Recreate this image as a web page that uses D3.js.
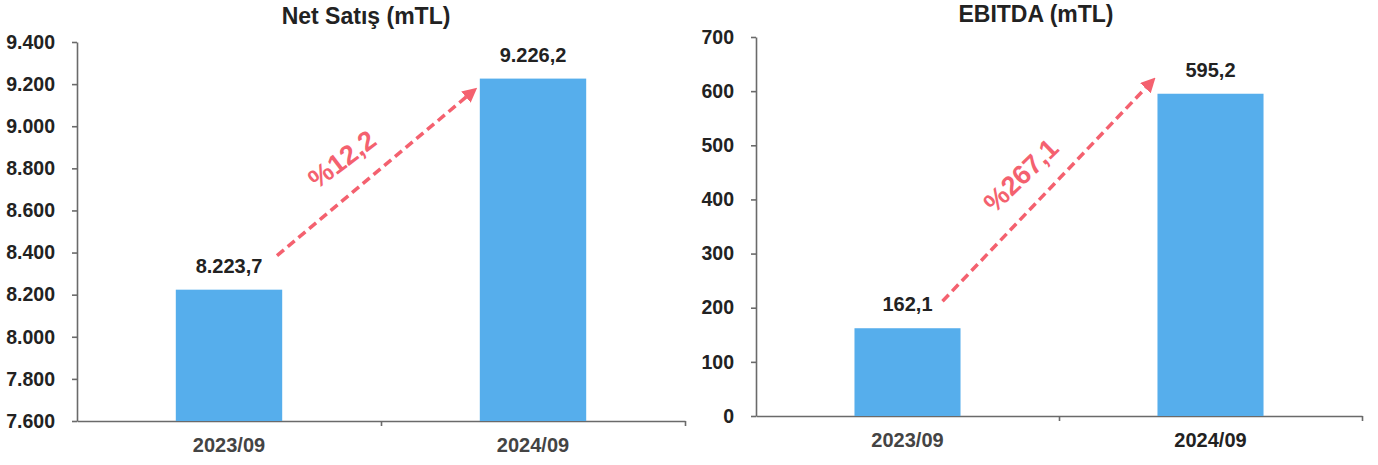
<!DOCTYPE html>
<html>
<head>
<meta charset="utf-8">
<script src="https://cdn.jsdelivr.net/npm/d3@7"></script>
<style>
    body { margin: 0; background: #fff; }
    svg { display: block; }
    .axis path, .axis line { stroke: #6a6a6a; stroke-width: 1.6; }
    .axis text { font-family: "Liberation Sans", Arial, sans-serif; font-weight: bold; font-size: 19.5px; fill: #222; }
    .cat-label { font-family: "Liberation Sans", Arial, sans-serif; font-weight: bold; font-size: 20px; fill: #444; }
    .title { font-family: "Liberation Sans", Arial, sans-serif; font-weight: bold; font-size: 23px; fill: #222; }
    .val { font-family: "Liberation Sans", Arial, sans-serif; font-weight: bold; font-size: 20px; fill: #222; }
    .growth { font-family: "Liberation Sans", Arial, sans-serif; font-weight: bold; font-size: 27px; fill: #f4616f; }
    .arrow { stroke: #f4616f; stroke-width: 3.5; stroke-dasharray: 9 5; fill: none; }
</style>
</head>
<body>
<svg id="chart" width="1378" height="465"></svg>
<script>
/* =======================
   DATA
======================= */
const categories = ["2023/09", "2024/09"];
const netSatisValues = [8223.7, 9226.2];
const ebitdaValues = [162.1, 595.2];
const netSatisTicks = [7600, 7800, 8000, 8200, 8400, 8600, 8800, 9000, 9200, 9400];
const ebitdaTicks = [0, 100, 200, 300, 400, 500, 600, 700];
const titles = ["Net Satış (mTL)", "EBITDA (mTL)"];
const growthLabels = ["%12,2", "%267,1"];

/* Turkish number format */
const tr = d3.formatLocale({ decimal: ",", thousands: ".", grouping: [3], currency: ["", " TL"] });
const fmtVal = tr.format(",.1f");
const fmtTick = tr.format(",d");

const svg = d3.select("#chart");

// arrowhead marker
svg.append("defs").append("marker")
    .attr("id", "head")
    .attr("viewBox", "0 0 10 10")
    .attr("refX", 7).attr("refY", 5)
    .attr("markerWidth", 4.2).attr("markerHeight", 4.2)
    .attr("orient", "auto")
    .append("path")
    .attr("d", "M0,0 L10,5 L0,10 Z")
    .attr("fill", "#f4616f");

const drawChart = ({
    values, ticks, title, growth,
    x0, x1, yTop, yBottom, titleX, titleY, labelColors,
    arrowStart, arrowEnd, growthOffset, growthAngle
}) => {
    const g = svg.append("g");

    const yScale = d3.scaleLinear()
        .domain([ticks[0], ticks[ticks.length - 1]])
        .range([yBottom, yTop]);

    const xBand = d3.scaleBand().domain(categories).range([x0, x1]);
    const xIdx = d3.scaleLinear().domain([0, categories.length]).range([x0, x1]);
    const barW = xBand.bandwidth() * 0.35;

    // Y axis
    g.append("g")
        .attr("class", "axis")
        .attr("transform", `translate(${x0},0)`)
        .call(d3.axisLeft(yScale).tickValues(ticks).tickSize(5).tickSizeOuter(0).tickPadding(17).tickFormat(fmtTick));

    // X axis line + separators
    g.append("g")
        .attr("class", "axis")
        .attr("transform", `translate(0,${yBottom})`)
        .call(d3.axisBottom(xIdx).tickValues([1, 2]).tickSize(5).tickSizeOuter(0).tickFormat(""));

    // Category labels
    g.selectAll(".cat-label")
        .data(categories)
        .enter().append("text")
        .attr("class", "cat-label")
        .attr("x", d => xBand(d) + xBand.bandwidth() / 2)
        .attr("y", yBottom + 31)
        .attr("text-anchor", "middle")
        .style("fill", (d, i) => labelColors[i])
        .text(d => d);

    // Bars
    g.selectAll(".bar")
        .data(values)
        .enter().append("rect")
        .attr("class", "bar")
        .attr("x", (d, i) => xBand(categories[i]) + xBand.bandwidth() / 2 - barW / 2)
        .attr("y", d => yScale(d))
        .attr("width", barW)
        .attr("height", d => yBottom - yScale(d))
        .attr("fill", "#56aeec");

    // Value labels
    g.selectAll(".val")
        .data(values)
        .enter().append("text")
        .attr("class", "val")
        .attr("x", (d, i) => xBand(categories[i]) + xBand.bandwidth() / 2)
        .attr("y", d => yScale(d) - 17)
        .attr("text-anchor", "middle")
        .text(d => fmtVal(d));

    // Title
    g.append("text")
        .attr("class", "title")
        .attr("x", titleX)
        .attr("y", titleY)
        .attr("text-anchor", "middle")
        .text(title);

    // Growth arrow: from first bar label to second bar top
    const c0 = xBand(categories[0]) + xBand.bandwidth() / 2;
    const l1 = xBand(categories[1]) + xBand.bandwidth() / 2 - barW / 2;
    const sx = c0 + arrowStart[0], sy = yScale(values[0]) + arrowStart[1];
    const ex = l1 + arrowEnd[0], ey = yScale(values[1]) + arrowEnd[1];

    g.append("line")
        .attr("class", "arrow")
        .attr("x1", sx).attr("y1", sy)
        .attr("x2", ex).attr("y2", ey)
        .attr("marker-end", "url(#head)");

    const mx = (sx + ex) / 2 + growthOffset[0];
    const my = (sy + ey) / 2 + growthOffset[1];
    g.append("text")
        .attr("class", "growth")
        .attr("text-anchor", "middle")
        .attr("dominant-baseline", "middle")
        .attr("transform", `translate(${mx},${my}) rotate(${growthAngle})`)
        .text(growth);
};

drawChart({
    values: netSatisValues, ticks: netSatisTicks, title: titles[0], growth: growthLabels[0],
    x0: 77, x1: 685, yTop: 42, yBottom: 421, titleX: 366, titleY: 24,
    labelColors: ["#444", "#444"],
    arrowStart: [48, -34], arrowEnd: [-6, 12],
    growthOffset: [-32, -12], growthAngle: -37
});

drawChart({
    values: ebitdaValues, ticks: ebitdaTicks, title: titles[1], growth: growthLabels[1],
    x0: 756, x1: 1362, yTop: 37, yBottom: 416, titleX: 1036, titleY: 22,
    labelColors: ["#444", "#222"],
    arrowStart: [35, -27], arrowEnd: [-5, -13],
    growthOffset: [-25, -14], growthAngle: -44
});
</script>
</body>
</html>
